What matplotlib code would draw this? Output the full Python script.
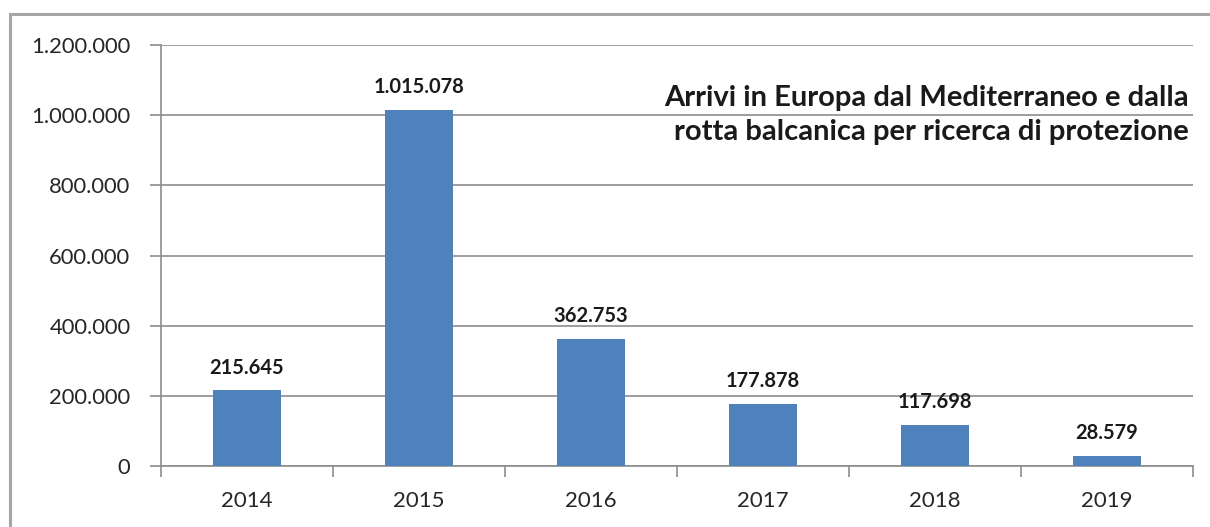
import matplotlib.pyplot as plt
from matplotlib.patches import Rectangle
from matplotlib.ticker import FuncFormatter

plt.rcParams['font.family'] = ['Lato', 'DejaVu Sans']

anni = ['2014', '2015', '2016', '2017', '2018', '2019']
arrivi = [215645, 1015078, 362753, 177878, 117698, 28579]

def fmt_it(v, pos=None):
    return f"{int(v):,}".replace(",", ".")

W, H = 1210, 527
fig = plt.figure(figsize=(W / 100, H / 100), dpi=100)
ax = fig.add_axes([161 / W, 1 - 466 / H, (1193 - 161) / W, (466 - 45) / H])

# cornice del grafico (tagliata a destra e in basso)
fig.patches.append(Rectangle((10 / W, -0.05), 1.2, 1 - 14 / H + 0.05,
                             transform=fig.transFigure, fill=False,
                             edgecolor='#a6a6a6', linewidth=2.2))

x = range(len(anni))
ax.bar(x, arrivi, width=0.4, color='#4f81bd', zorder=3)
for i, v in zip(x, arrivi):
    ax.text(i, v + 36000, fmt_it(v), ha='center', va='bottom',
            fontsize=14.5, fontweight='bold', color='#1a1a1a')

ax.set_xlim(-0.5, len(anni) - 0.5)
ax.set_ylim(0, 1200000)
ax.set_yticks(range(0, 1200001, 200000))
ax.yaxis.set_major_formatter(FuncFormatter(fmt_it))
ax.set_xticks(list(x))
ax.set_xticklabels(anni)
ax.set_xticks([i - 0.5 for i in range(len(anni) + 1)], minor=True)
ax.tick_params(axis='x', which='major', length=0, pad=18, labelsize=16, labelcolor='#262626')
ax.tick_params(axis='x', which='minor', length=8, width=1.2, color='#8c8c8c')
ax.tick_params(axis='y', length=8, width=1.2, color='#8c8c8c', pad=14,
               labelsize=15.8, labelcolor='#262626')

ax.grid(axis='y', color='#8c8c8c', linewidth=1.2, zorder=0)
for s in ['top', 'right']:
    ax.spines[s].set_visible(False)
for s in ['left', 'bottom']:
    ax.spines[s].set_color('#8c8c8c')
    ax.spines[s].set_linewidth(1.2)

ax.text(0.996, 0.905, "Arrivi in Europa dal Mediterraneo e dalla\nrotta balcanica per ricerca di protezione",
        transform=ax.transAxes, ha='right', va='top', fontsize=21,
        fontweight='bold', color='#1a1a1a', linespacing=1.36)

fig.savefig('out.png', dpi=100)
